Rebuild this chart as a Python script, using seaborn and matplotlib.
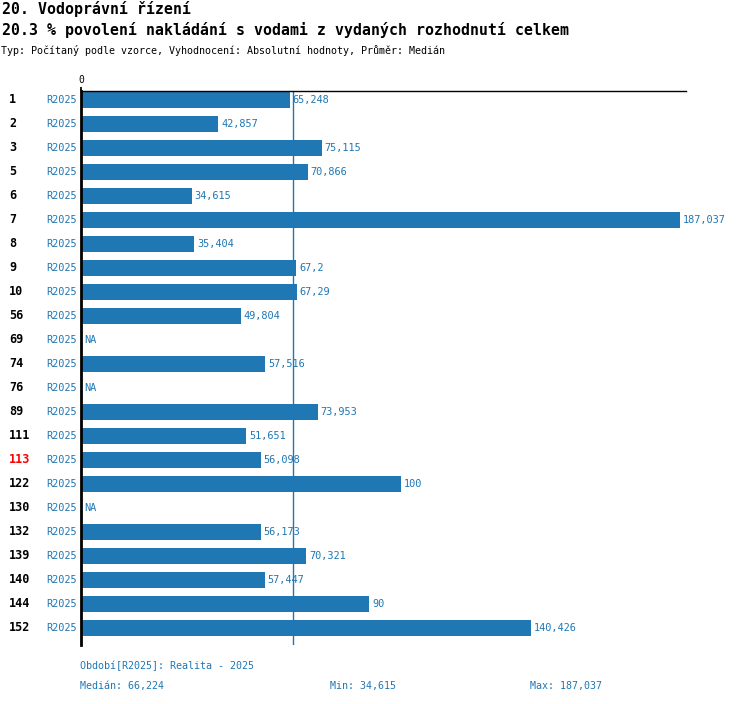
import numpy as np
import pandas as pd
import matplotlib
matplotlib.use("Agg")
import matplotlib.pyplot as plt
import seaborn as sns

sns.set_theme(style="white")
plt.rcParams["font.family"] = ["DejaVu Sans Mono", "DejaVu Sans"]

# data
rows = ["1", "2", "3", "5", "6", "7", "8", "9", "10", "56", "69", "74", "76",
        "89", "111", "113", "122", "130", "132", "139", "140", "144", "152"]
values = [65.248, 42.857, 75.115, 70.866, 34.615, 187.037, 35.404, 67.2, 67.29,
          49.804, np.nan, 57.516, np.nan, 73.953, 51.651, 56.098, 100, np.nan,
          56.173, 70.321, 57.447, 90, 140.426]
period = "R2025"
highlight = "113"
title1 = "20. Vodoprávní řízení"
title2 = "20.3 % povolení nakládání s vodami z vydaných rozhodnutí celkem"
subtitle = "Typ: Počítaný podle vzorce, Vyhodnocení: Absolutní hodnoty, Průměr: Medián"
footer_period = "Období[R2025]: Realita - 2025"

BLUE = "#1f77b4"


def fmt(v):
    s = f"{v:.3f}".rstrip("0").rstrip(".")
    return s.replace(".", ",")


df = pd.DataFrame({"row": rows, "value": values})
vals = df["value"].dropna()
med, vmin, vmax = vals.median(), vals.min(), vals.max()

fig = plt.figure(figsize=(7.5, 7.04), dpi=100)
ax = fig.add_axes([81 / 750, 1 - 645 / 704, 605 / 750, (645 - 91) / 704])

sns.barplot(data=df, x="value", y="row", order=rows, orient="h", color=BLUE,
            saturation=1, width=0.67, errorbar=None, linewidth=0, ax=ax)

ax.set_xlim(0, 605 / 3.2026)
ax.set_ylim(len(rows) - 1 + 0.71, -0.375)
ax.axvline(med, color=BLUE, lw=1, zorder=0)

for s in ["right", "bottom"]:
    ax.spines[s].set_visible(False)
for s in ["left", "top"]:
    ax.spines[s].set_color("black")
ax.spines["left"].set_linewidth(2)
ax.spines["top"].set_linewidth(1)

ax.xaxis.tick_top()
ax.set_xticks([0])
ax.set_xticklabels(["0"], fontsize=7)
ax.tick_params(axis="x", length=3, pad=1, colors="black")
ax.set_yticks([])
ax.set_xlabel("")
ax.set_ylabel("")

tr = ax.get_yaxis_transform()
for i, (r, v) in enumerate(zip(rows, values)):
    ax.text(-72 / 605, i, r, transform=tr, ha="left", va="center",
            fontsize=8.5, fontweight="bold",
            color="red" if r == highlight else "black")
    ax.text(-4 / 605, i, period, transform=tr, ha="right", va="center",
            fontsize=7.4, color=BLUE)
    if np.isnan(v):
        ax.text(3 / 605, i, "NA", transform=tr, ha="left", va="center",
                fontsize=7.4, color=BLUE)
    else:
        ax.annotate(fmt(v), (v, i), xytext=(2, 0), textcoords="offset points",
                    ha="left", va="center", fontsize=7.4, color=BLUE)

fig.text(2 / 750, 1 - 9 / 704, title1, ha="left", va="center",
         fontsize=10.7, fontweight="bold", color="black")
fig.text(2 / 750, 1 - 30 / 704, title2, ha="left", va="center",
         fontsize=10.7, fontweight="bold", color="black")
fig.text(1 / 750, 1 - 50 / 704, subtitle, ha="left", va="center",
         fontsize=7.2, color="black")

fig.text(80 / 750, 1 - 666 / 704, footer_period, ha="left", va="center",
         fontsize=7.2, color=BLUE)
fig.text(80 / 750, 1 - 686 / 704, "Medián: " + fmt(med), ha="left", va="center",
         fontsize=7.2, color=BLUE)
fig.text(330 / 750, 1 - 686 / 704, "Min: " + fmt(vmin), ha="left", va="center",
         fontsize=7.2, color=BLUE)
fig.text(530 / 750, 1 - 686 / 704, "Max: " + fmt(vmax), ha="left", va="center",
         fontsize=7.2, color=BLUE)

fig.savefig("out.png", dpi=100, facecolor="white")
